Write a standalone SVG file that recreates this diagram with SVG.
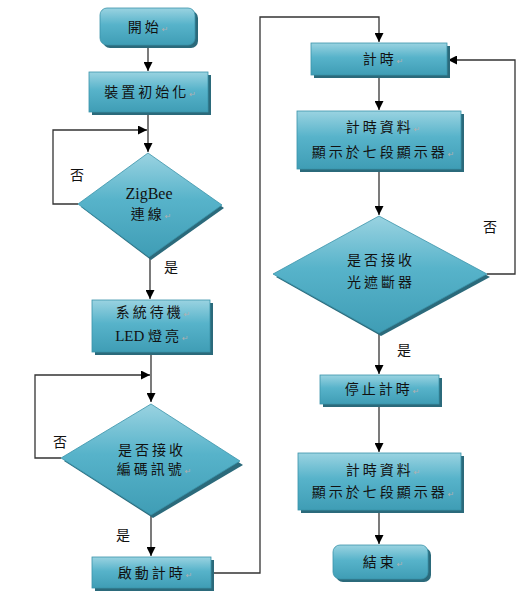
<svg xmlns="http://www.w3.org/2000/svg" width="529" height="611" viewBox="0 0 529 611">
<defs>
<linearGradient id="g" x1="0" y1="0" x2="0" y2="1">
<stop offset="0" stop-color="#9ad3e1"/>
<stop offset="0.45" stop-color="#57b3ca"/>
<stop offset="1" stop-color="#3f9db5"/>
</linearGradient>
<marker id="ah" viewBox="0 0 10 10" refX="10" refY="5" markerWidth="9" markerHeight="9" markerUnits="userSpaceOnUse" orient="auto">
<path d="M0,0 L10,5 L0,10 z" fill="#000"/>
</marker>
<style>
.sh{fill:#2b6a7b}
.bx{fill:url(#g);stroke:#3a93aa;stroke-width:0.8}
.t{font-family:"Liberation Serif","Noto Sans CJK TC",serif;font-size:14px;fill:#111;text-anchor:middle;letter-spacing:3px}
.lat{font-size:16px;letter-spacing:0}
.r{font-family:"DejaVu Sans",sans-serif;font-size:8px;fill:#b0b0b0;letter-spacing:0}
.lb{font-family:"Liberation Serif","Noto Sans CJK TC",serif;font-size:14px;fill:#111;text-anchor:middle}
.c{fill:none;stroke:#333;stroke-width:1.3}
</style>
</defs>
<rect width="529" height="611" fill="#fff"/>

<g id="connectors">
<path class="c" d="M148,45 V71" marker-end="url(#ah)"/>
<path class="c" d="M148,112 V152" marker-end="url(#ah)"/>
<path class="c" d="M78,204 H53 V130 H147" marker-end="url(#ah)"/>
<path class="c" d="M150,257 V299" marker-end="url(#ah)"/>
<path class="c" d="M151,352 V402" marker-end="url(#ah)"/>
<path class="c" d="M61,458 H35 V375 H150" marker-end="url(#ah)"/>
<path class="c" d="M151,515 V556" marker-end="url(#ah)"/>
<path class="c" d="M211,573 H260 V17 H379 V42" marker-end="url(#ah)"/>
<path class="c" d="M379,75 V110" marker-end="url(#ah)"/>
<path class="c" d="M379,169 V215" marker-end="url(#ah)"/>
<path class="c" d="M487,274 H515 V60 H448" marker-end="url(#ah)"/>
<path class="c" d="M379,333 V374" marker-end="url(#ah)"/>
<path class="c" d="M379,404 V452" marker-end="url(#ah)"/>
<path class="c" d="M379,510 V544" marker-end="url(#ah)"/>
<text class="lb" x="77" y="180">否</text>
<text class="lb" x="171" y="272">是</text>
<text class="lb" x="60" y="447">否</text>
<text class="lb" x="123" y="540">是</text>
<text class="lb" x="490" y="232">否</text>
<text class="lb" x="404" y="355">是</text>
</g>

<g id="start">
<rect class="sh" x="103" y="11" width="95" height="37" rx="7"/>
<rect class="bx" x="100" y="8" width="95" height="37" rx="7"/>
<text class="t" x="148" y="32">開始<tspan class="r">↵</tspan></text>
</g>

<g id="init">
<rect class="sh" x="92" y="75" width="119" height="40"/>
<rect class="bx" x="89" y="72" width="119" height="40"/>
<text class="t" x="150" y="97">裝置初始化<tspan class="r">↵</tspan></text>
</g>

<g id="zigbee">
<path class="sh" d="M149,156 L224,208 L151,260 L81,207 z"/>
<path class="bx" d="M148,153 L222,205 L149,257 L78,204 z"/>
<text class="t lat" x="149" y="199">ZigBee</text>
<text class="t" x="151" y="219">連線<tspan class="r">↵</tspan></text>
</g>

<g id="standby">
<rect class="sh" x="95" y="303" width="118" height="52"/>
<rect class="bx" x="92" y="300" width="118" height="52"/>
<text class="t" x="153" y="317">系統待機<tspan class="r">↵</tspan></text>
<text class="t" x="152" y="341"><tspan style="font-size:15px;letter-spacing:0">LED&#160;</tspan>燈亮<tspan class="r">↵</tspan></text>
</g>

<g id="recv-code">
<path class="sh" d="M153,407 L243,465 L153,518 L64,461 z"/>
<path class="bx" d="M151,404 L240,461 L151,515 L61,458 z"/>
<text class="t" x="152" y="455">是否接收</text>
<text class="t" x="154" y="474">編碼訊號<tspan class="r">↵</tspan></text>
</g>

<g id="start-timer">
<rect class="sh" x="95" y="560" width="119" height="31"/>
<rect class="bx" x="92" y="557" width="119" height="31"/>
<text class="t" x="155" y="578">啟動計時<tspan class="r">↵</tspan></text>
</g>

<g id="timing">
<rect class="sh" x="314" y="46" width="136" height="32"/>
<rect class="bx" x="311" y="43" width="136" height="32"/>
<text class="t" x="383" y="64">計時<tspan class="r">↵</tspan></text>
</g>

<g id="display1">
<rect class="sh" x="300" y="114" width="164" height="58"/>
<rect class="bx" x="297" y="111" width="164" height="58"/>
<text class="t" x="383" y="132">計時資料<tspan class="r">↵</tspan></text>
<text class="t" x="383" y="157">顯示於七段顯示器<tspan class="r">↵</tspan></text>
</g>

<g id="recv-light">
<path class="sh" d="M381,219 L490,277 L381,336 L276,277 z"/>
<path class="bx" d="M379,216 L487,274 L379,333 L273,274 z"/>
<text class="t" x="381" y="265">是否接收</text>
<text class="t" x="381" y="287">光遮斷器</text>
</g>

<g id="stop-timer">
<rect class="sh" x="323" y="378" width="119" height="29"/>
<rect class="bx" x="320" y="375" width="119" height="29"/>
<text class="t" x="382" y="394">停止計時<tspan class="r">↵</tspan></text>
</g>

<g id="display2">
<rect class="sh" x="301" y="456" width="163" height="57"/>
<rect class="bx" x="298" y="453" width="163" height="57"/>
<text class="t" x="383" y="475">計時資料<tspan class="r">↵</tspan></text>
<text class="t" x="383" y="497">顯示於七段顯示器<tspan class="r">↵</tspan></text>
</g>

<g id="end">
<rect class="sh" x="336" y="548" width="95" height="34" rx="7"/>
<rect class="bx" x="333" y="545" width="95" height="34" rx="7"/>
<text class="t" x="383" y="567">結束<tspan class="r">↵</tspan></text>
</g>
</svg>
